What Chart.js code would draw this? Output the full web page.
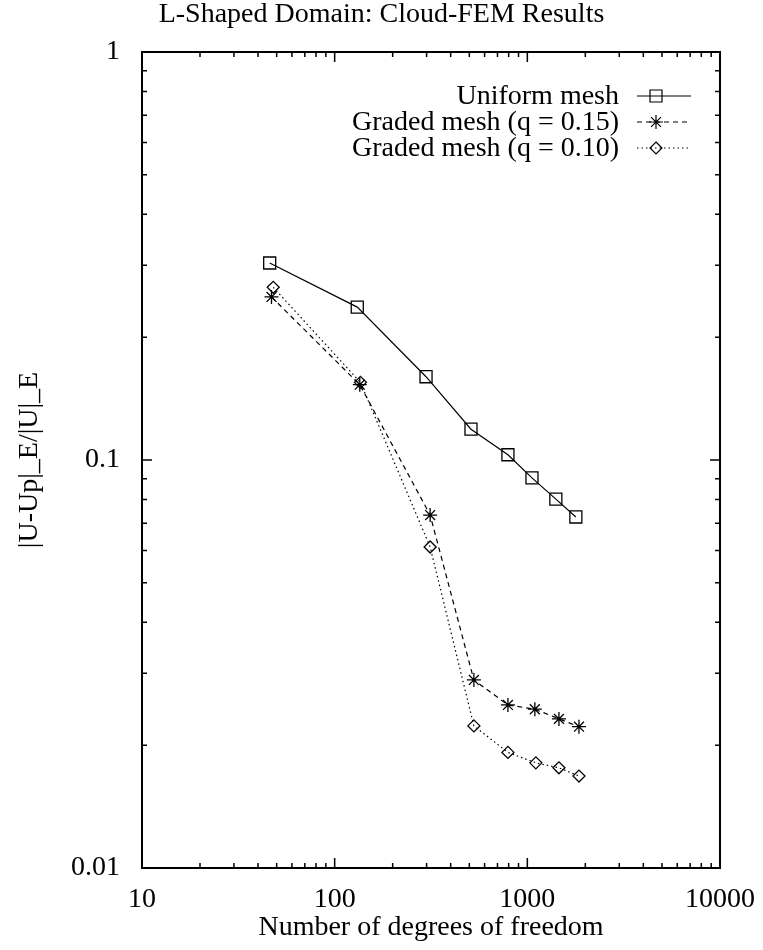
<!DOCTYPE html>
<html>
<head>
<meta charset="utf-8">
<script src="https://cdn.jsdelivr.net/npm/chart.js@4"></script>
<style>
  body { margin: 0; background: #fff; }
  #wrap { width: 763px; height: 950px; position: relative; }
</style>
</head>
<body>
<div id="wrap"><canvas id="errChart"></canvas></div>
<script>
// degrees of freedom and relative energy-norm error
const dofUniform = [46, 131, 298, 510, 793, 1057, 1406, 1786];
const errUniform = [0.304, 0.237, 0.160, 0.119, 0.103, 0.0904, 0.0802, 0.0725];
const dofGraded15 = [47, 135, 313, 528, 793, 1094, 1459, 1854];
const errGraded15 = [0.251, 0.153, 0.0733, 0.0289, 0.0251, 0.0245, 0.0232, 0.0222];
const dofGraded10 = [48, 136, 313, 528, 793, 1107, 1459, 1854];
const errGraded10 = [0.265, 0.155, 0.0612, 0.0223, 0.0192, 0.0181, 0.0176, 0.0168];

const chartTitle = 'L-Shaped Domain: Cloud-FEM Results';
const seriesLabels = ['Uniform mesh', 'Graded mesh (q = 0.15)', 'Graded mesh (q = 0.10)'];
const xTicks = [10, 100, 1000, 10000];
const xTickLabels = ['10', '100', '1000', '10000'];
const yTicks = [0.01, 0.1, 1];
const yTickLabels = ['0.01', '0.1', '1'];

const FONT = "'Liberation Serif', 'DejaVu Serif', serif";
const FS = 28;

function pts(xs, ys) {
    return xs.map((x, i) => ({ x: x, y: ys[i] }));
}

function minorsBetween(majors) {
    const out = [];
    for (let i = 0; i < majors.length - 1; i++) {
        for (let k = 2; k <= 9; k++) out.push(majors[i] * k);
    }
    return out;
}

function drawMarker(ctx, style, x, y) {
    ctx.beginPath();
    if (style === 'rect') {
        ctx.rect(x - 6, y - 6, 12, 12);
    } else if (style === 'star') {
        const r = 7;
        ctx.moveTo(x - r, y); ctx.lineTo(x + r, y);
        ctx.moveTo(x, y - r); ctx.lineTo(x, y + r);
        const d = r * Math.SQRT1_2;
        ctx.moveTo(x - d, y - d); ctx.lineTo(x + d, y + d);
        ctx.moveTo(x - d, y + d); ctx.lineTo(x + d, y - d);
    } else {
        ctx.moveTo(x, y - 6); ctx.lineTo(x + 6, y); ctx.lineTo(x, y + 6); ctx.lineTo(x - 6, y); ctx.closePath();
    }
    ctx.stroke();
}

// gnuplot-like frame with inward ticks, title and legend
const framePlugin = {
    id: 'frame',
    afterDatasetsDraw(chart) {
        const ctx = chart.ctx;
        const a = chart.chartArea;
        const xs = chart.scales.x, ys = chart.scales.y;
        ctx.save();
        ctx.strokeStyle = '#000';
        ctx.lineWidth = 1.5;
        ctx.setLineDash([]);
        ctx.beginPath();
        const tick = (v, len, horiz) => {
            if (horiz) {
                const px = xs.getPixelForValue(v);
                ctx.moveTo(px, a.bottom); ctx.lineTo(px, a.bottom - len);
                ctx.moveTo(px, a.top); ctx.lineTo(px, a.top + len);
            } else {
                const py = ys.getPixelForValue(v);
                ctx.moveTo(a.left, py); ctx.lineTo(a.left + len, py);
                ctx.moveTo(a.right, py); ctx.lineTo(a.right - len, py);
            }
        };
        xTicks.forEach(v => tick(v, 10, true));
        minorsBetween(xTicks).forEach(v => tick(v, 5, true));
        yTicks.forEach(v => tick(v, 10, false));
        minorsBetween(yTicks).forEach(v => tick(v, 5, false));
        ctx.stroke();
        ctx.lineWidth = 2;
        ctx.strokeRect(a.left, a.top, a.right - a.left, a.bottom - a.top);

        ctx.font = FS + 'px ' + FONT;
        ctx.fillStyle = '#000';
        ctx.textBaseline = 'middle';

        // title, centred on the page
        ctx.textAlign = 'center';
        ctx.fillText(chartTitle, chart.width / 2, 15);

        // legend
        ctx.textAlign = 'right';
        const rows = [44, 70, 96];
        chart.data.datasets.forEach((ds, i) => {
            const y = a.top + rows[i];
            ctx.fillText(seriesLabels[i], a.right - 101, y + 1);
            ctx.lineWidth = 1.2;
            ctx.setLineDash(ds.borderDash || []);
            ctx.beginPath();
            ctx.moveTo(a.right - 83, y);
            ctx.lineTo(a.right - 29, y);
            ctx.stroke();
            ctx.setLineDash([]);
            drawMarker(ctx, ds.pointStyle, a.right - 64, y);
        });
        ctx.restore();
    }
};

const ctx = document.getElementById('errChart').getContext('2d');

const errChart = new Chart(ctx, {
    type: 'scatter',
    data: {
        datasets: [{
            label: seriesLabels[0],
            data: pts(dofUniform, errUniform),
            showLine: true,
            borderColor: '#000',
            borderWidth: 1.2,
            pointStyle: 'rect',
            pointRadius: 8.5,
            pointBorderWidth: 1.3,
            pointBackgroundColor: 'rgba(0,0,0,0)',
            pointBorderColor: '#000'
        }, {
            label: seriesLabels[1],
            data: pts(dofGraded15, errGraded15),
            showLine: true,
            borderColor: '#000',
            borderWidth: 1.2,
            borderDash: [5, 4],
            pointStyle: 'star',
            pointRadius: 7,
            pointBorderWidth: 1.3,
            pointBackgroundColor: 'rgba(0,0,0,0)',
            pointBorderColor: '#000'
        }, {
            label: seriesLabels[2],
            data: pts(dofGraded10, errGraded10),
            showLine: true,
            borderColor: '#000',
            borderWidth: 1.2,
            borderDash: [1.5, 3],
            pointStyle: 'rectRot',
            pointRadius: 6,
            pointBorderWidth: 1.3,
            pointBackgroundColor: 'rgba(0,0,0,0)',
            pointBorderColor: '#000'
        }]
    },
    options: {
        responsive: true,
        maintainAspectRatio: false,
        animation: false,
        layout: { padding: { left: 0, right: 43, top: 52, bottom: 0 } },
        plugins: {
            legend: { display: false },
            tooltip: { enabled: false },
            title: { display: false }
        },
        scales: {
            x: {
                type: 'logarithmic',
                min: 10,
                max: 10000,
                afterBuildTicks: s => { s.ticks = xTicks.map(v => ({ value: v })); },
                afterFit: s => {
                    s.height = 82;
                    s.paddingLeft = 0; s.paddingRight = 0;
                },
                grid: { display: false, drawTicks: false },
                border: { display: false },
                ticks: {
                    autoSkip: false,
                    maxRotation: 0,
                    padding: 15,
                    color: '#000',
                    font: { family: FONT, size: FS },
                    callback: v => xTickLabels[xTicks.indexOf(v)] ?? ''
                },
                title: {
                    display: true,
                    text: 'Number of degrees of freedom',
                    color: '#000',
                    font: { family: FONT, size: FS, lineHeight: 1.2 },
                    padding: { top: 0, bottom: 6 }
                }
            },
            y: {
                type: 'logarithmic',
                min: 0.01,
                max: 1,
                afterBuildTicks: s => { s.ticks = yTicks.map(v => ({ value: v })); },
                afterFit: s => {
                    s.width = 142;
                    s.paddingTop = 0; s.paddingBottom = 0;
                },
                grid: { display: false, drawTicks: false },
                border: { display: false },
                ticks: {
                    autoSkip: false,
                    padding: 22,
                    color: '#000',
                    font: { family: FONT, size: FS },
                    callback: v => yTickLabels[yTicks.indexOf(v)] ?? ''
                },
                title: {
                    display: true,
                    text: '|U-Up|_E/|U|_E',
                    color: '#000',
                    font: { family: FONT, size: FS, lineHeight: 1.2 },
                    padding: { top: 13, bottom: 0 }
                }
            }
        }
    },
    plugins: [framePlugin]
});
</script>
</body>
</html>
